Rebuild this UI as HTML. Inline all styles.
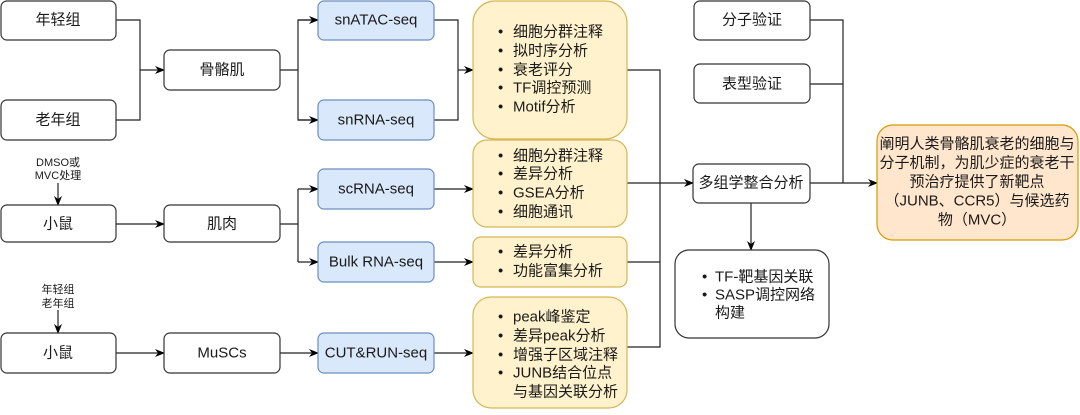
<!DOCTYPE html>
<html><head><meta charset="utf-8"><style>
html,body{margin:0;padding:0;background:#fff;}
svg text{font-family:"Liberation Sans","Noto Sans CJK SC",sans-serif;fill:#1a1a1a;}
</style></head><body>
<svg width="1080" height="410" viewBox="0 0 1080 410" xmlns="http://www.w3.org/2000/svg">
<defs><marker id="a" markerWidth="10" markerHeight="10" refX="9" refY="5" orient="auto" markerUnits="userSpaceOnUse"><path d="M0,1 L10,5 L0,9 L3,5 Z" fill="#000"/></marker></defs>
<g fill="none" stroke="#222" stroke-width="1.2">
<!-- row1 -->
<polyline points="116,20 140,20 140,120 116,120"/>
<line x1="140" y1="70" x2="164" y2="70" marker-end="url(#a)"/>
<line x1="280" y1="70" x2="298" y2="70"/>
<polyline points="318,20 298,20 298,120 318,120"/>
<line x1="298" y1="20" x2="318" y2="20" marker-end="url(#a)"/>
<line x1="298" y1="120" x2="318" y2="120" marker-end="url(#a)"/>
<polyline points="434,20 458,20 458,120 434,120"/>
<line x1="458" y1="70" x2="473" y2="70" marker-end="url(#a)"/>
<!-- row2 -->
<line x1="58" y1="183" x2="58" y2="205" marker-end="url(#a)"/>
<line x1="116" y1="224" x2="164" y2="224" marker-end="url(#a)"/>
<polyline points="280,224 298,224"/>
<polyline points="298,189 298,262"/>
<line x1="298" y1="189" x2="318" y2="189" marker-end="url(#a)"/>
<line x1="298" y1="262" x2="318" y2="262" marker-end="url(#a)"/>
<line x1="434" y1="189" x2="473" y2="189" marker-end="url(#a)"/>
<line x1="434" y1="262" x2="473" y2="262" marker-end="url(#a)"/>
<!-- row3 -->
<line x1="58" y1="310" x2="58" y2="333" marker-end="url(#a)"/>
<line x1="116" y1="353" x2="164" y2="353" marker-end="url(#a)"/>
<line x1="280" y1="353" x2="318" y2="353" marker-end="url(#a)"/>
<line x1="434" y1="353" x2="473" y2="353" marker-end="url(#a)"/>
<!-- merge -->
<polyline points="627,70 660,70 660,347 627,347"/>
<line x1="627" y1="262" x2="660" y2="262"/>
<line x1="627" y1="183" x2="693" y2="183" marker-end="url(#a)"/>
<polyline points="810,20 843,20 843,183"/>
<line x1="810" y1="84" x2="843" y2="84"/>
<line x1="810" y1="183" x2="877" y2="183" marker-end="url(#a)"/>
<line x1="751" y1="203" x2="751" y2="250" marker-end="url(#a)"/>
</g>
<!-- white boxes -->
<g fill="#fff" stroke="#333" stroke-width="1.2">
<rect x="1" y="1" width="115" height="39" rx="6"/>
<rect x="1" y="100" width="115" height="40" rx="6"/>
<rect x="164" y="50" width="116" height="40" rx="6"/>
<rect x="1" y="205" width="115" height="37" rx="6"/>
<rect x="164" y="205" width="116" height="37" rx="6"/>
<rect x="1" y="333" width="115" height="40" rx="6"/>
<rect x="164" y="333" width="116" height="40" rx="6"/>
<rect x="694" y="1" width="116" height="39" rx="6"/>
<rect x="694" y="64" width="116" height="39" rx="6"/>
<rect x="693" y="164" width="117" height="39" rx="6"/>
<rect x="675" y="250" width="154" height="88" rx="14"/>
</g>
<g fill="#dae8fc" stroke="#6c8ebf" stroke-width="1.2">
<rect x="318" y="1" width="116" height="39" rx="6"/>
<rect x="318" y="100" width="116" height="40" rx="6"/>
<rect x="318" y="169" width="116" height="40" rx="6"/>
<rect x="318" y="242" width="116" height="40" rx="6"/>
<rect x="318" y="333" width="116" height="40" rx="6"/>
</g>
<g fill="#fff2cc" stroke="#d6b656" stroke-width="1.2">
<rect x="473" y="1" width="154" height="138" rx="22"/>
<rect x="473" y="140" width="154" height="87" rx="14"/>
<rect x="473" y="237" width="154" height="50" rx="8"/>
<rect x="473" y="297" width="154" height="111" rx="18"/>
</g>
<rect x="877" y="125" width="201" height="115" rx="16" fill="#ffe6cc" stroke="#d79b00" stroke-width="1.2"/>
<g font-size="15" text-anchor="middle" dominant-baseline="central">
<text x="58" y="20">年轻组</text>
<text x="58" y="120">老年组</text>
<text x="222" y="70">骨骼肌</text>
<text x="376" y="20">snATAC-seq</text>
<text x="376" y="120">snRNA-seq</text>
<text x="58" y="224">小鼠</text>
<text x="222" y="224">肌肉</text>
<text x="376" y="189">scRNA-seq</text>
<text x="376" y="262">Bulk RNA-seq</text>
<text x="58" y="353">小鼠</text>
<text x="222" y="353">MuSCs</text>
<text x="376" y="353">CUT&amp;RUN-seq</text>
<text x="752" y="20">分子验证</text>
<text x="752" y="84">表型验证</text>
<text x="751" y="183">多组学整合分析</text>
<text x="977" y="144">阐明人类骨骼肌衰老的细胞与</text>
<text x="977" y="163">分子机制，为肌少症的衰老干</text>
<text x="977" y="182">预治疗提供了新靶点</text>
<text x="977" y="201">（JUNB、CCR5）与候选药</text>
<text x="977" y="220">物（MVC）</text>
</g>
<g font-size="11" text-anchor="middle" dominant-baseline="central">
<text x="58" y="163">DMSO或</text>
<text x="58" y="176">MVC处理</text>
<text x="58" y="290">年轻组</text>
<text x="58" y="304">老年组</text>
</g>
<g font-size="15" dominant-baseline="central">
<g><text x="498" y="32">•</text><text x="513" y="32">细胞分群注释</text>
<text x="498" y="51">•</text><text x="513" y="51">拟时序分析</text>
<text x="498" y="70">•</text><text x="513" y="70">衰老评分</text>
<text x="498" y="88">•</text><text x="513" y="88">TF调控预测</text>
<text x="498" y="107">•</text><text x="513" y="107">Motif分析</text></g>
<g><text x="498" y="156">•</text><text x="513" y="156">细胞分群注释</text>
<text x="498" y="174">•</text><text x="513" y="174">差异分析</text>
<text x="498" y="193">•</text><text x="513" y="193">GSEA分析</text>
<text x="498" y="212">•</text><text x="513" y="212">细胞通讯</text></g>
<g><text x="498" y="252">•</text><text x="513" y="252">差异分析</text>
<text x="498" y="271">•</text><text x="513" y="271">功能富集分析</text></g>
<g><text x="498" y="317">•</text><text x="513" y="317">peak峰鉴定</text>
<text x="498" y="336">•</text><text x="513" y="336">差异peak分析</text>
<text x="498" y="355">•</text><text x="513" y="355">增强子区域注释</text>
<text x="498" y="373">•</text><text x="513" y="373">JUNB结合位点</text>
<text x="513" y="392">与基因关联分析</text></g>
<g><text x="702" y="277">•</text><text x="715" y="277">TF-靶基因关联</text>
<text x="702" y="295">•</text><text x="715" y="295">SASP调控网络</text>
<text x="715" y="313">构建</text></g>
</g>
</svg>
</body></html>
